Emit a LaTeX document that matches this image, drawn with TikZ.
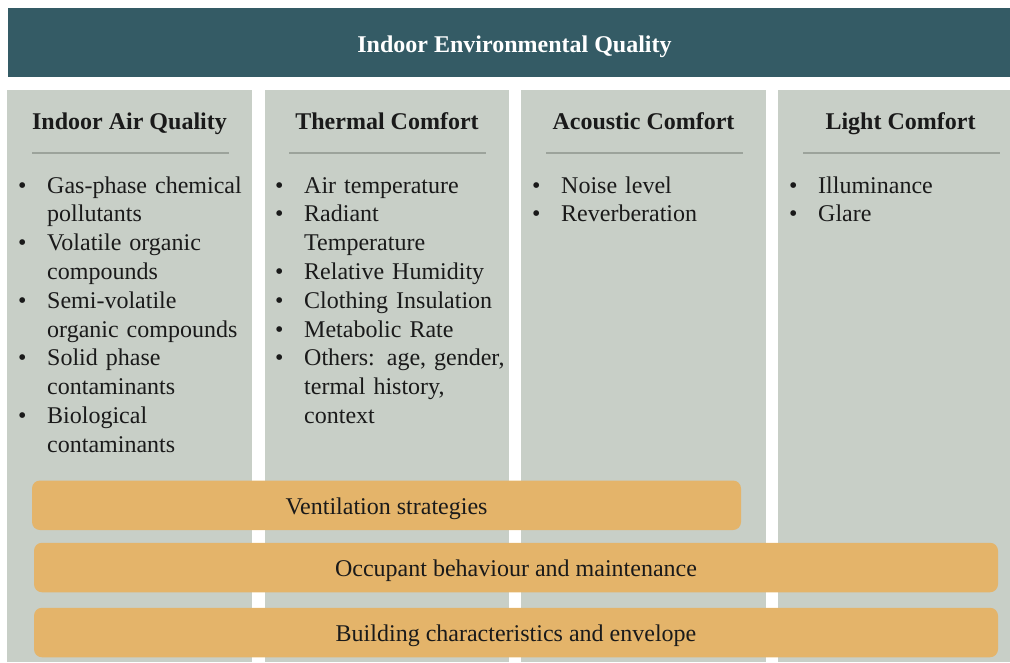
\documentclass[tikz,border=0pt]{standalone}
\usepackage{fontspec}
\setmainfont{Liberation Serif}
\usepackage{color}

\definecolor{ieqteal}{HTML}{345B65}
\definecolor{colgrey}{HTML}{C8CFC7}
\definecolor{rulegrey}{HTML}{9CA39B}
\definecolor{barorange}{HTML}{E4B46A}
\definecolor{ink}{HTML}{1A1A1A}

% one bulleted entry, hanging indent under the text
\newcommand{\bul}[1]{\hangindent=29pt\hangafter=1\noindent\makebox[29pt][l]{\textbullet}#1\par}

\begin{document}
\begin{tikzpicture}[x=1pt,y=-1pt,
  col/.style={fill=colgrey,inner sep=0pt,anchor=north west,minimum height=572pt},
  head/.style={anchor=base,text=ink,font=\fontsize{24}{28.8}\selectfont\bfseries},
  items/.style={anchor=base west,inner sep=0pt,text width=230pt,text=ink,
                font=\fontsize{24}{28.8}\selectfont\raggedright},
  bar/.style={fill=barorange,rounded corners=8pt,inner sep=0pt,minimum height=49.5pt,
              text height=24pt,text depth=6pt,text=ink,font=\fontsize{24}{28.8}\selectfont},
  rule/.style={rulegrey,line width=1.6pt}]

\useasboundingbox (0,0) rectangle (1010,662);

  \node (ieq) at (8,8) [fill=ieqteal,anchor=north west,inner sep=0pt,
        minimum width=1002pt,minimum height=69pt] {};
  \node (title) at (514.5,52) [anchor=base,text=white,font=\fontsize{24}{28.8}\selectfont\bfseries]
        {Indoor Environmental Quality};

  \node (iaq) at (7,90) [col,minimum width=245pt] {};
  \node (tc) at (265,90) [col,minimum width=244pt] {};
  \node (ac) at (521,90) [col,minimum width=245pt] {};
  \node (lc) at (778,90) [col,minimum width=232pt] {};

  \node (iaqhead) at (129.5,129) [head] {Indoor Air Quality};
  \node (tchead) at (387,129) [head] {Thermal Comfort};
  \node (achead) at (643.5,129) [head] {Acoustic Comfort};
  \node (lchead) at (900.5,129) [head] {Light Comfort};

\draw[rule] (32,153) -- (229,153);
\draw[rule] (289,153) -- (486,153);
\draw[rule] (546,153) -- (743,153);
\draw[rule] (803,153) -- (1000,153);

  \node (iaqlist) at (18,193) [items] {%
    \bul{Gas-phase chemical\newline pollutants}
    \bul{Volatile organic\newline compounds}
    \bul{Semi-volatile\newline organic compounds}
    \bul{Solid phase\newline contaminants}
    \bul{Biological\newline contaminants}};
  \node (tclist) at (275,193) [items] {%
    \bul{Air temperature}
    \bul{Radiant\newline Temperature}
    \bul{Relative Humidity}
    \bul{Clothing Insulation}
    \bul{Metabolic Rate}
    \bul{Others: age, gender,\newline termal history,\newline context}};
  \node (aclist) at (532,193) [items] {%
    \bul{Noise level}
    \bul{Reverberation}};
  \node (lclist) at (789,193) [items] {%
    \bul{Illuminance}
    \bul{Glare}};

  \node (vent) at (386.5,505.25) [bar,minimum width=709pt] {Ventilation strategies};
  \node (occ) at (516,567.5) [bar,minimum width=964pt] {Occupant behaviour and maintenance};
  \node (bldg) at (516,632.5) [bar,minimum width=964pt] {Building characteristics and envelope};
\end{tikzpicture}
\end{document}
